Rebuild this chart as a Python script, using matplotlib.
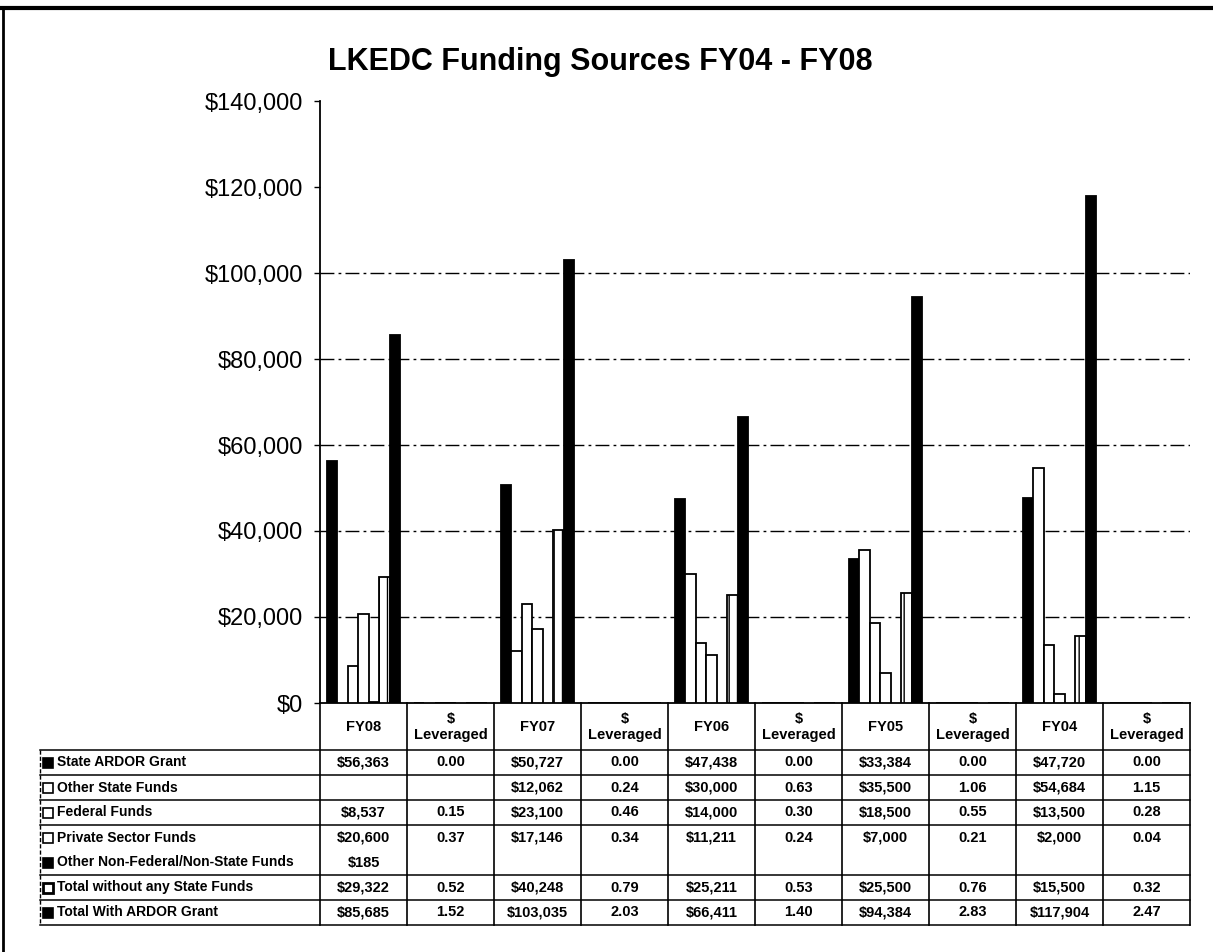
import numpy as np
import matplotlib.pyplot as plt
from matplotlib.patches import Rectangle

plt.rcParams['font.family'] = ['Liberation Sans', 'DejaVu Sans']
plt.rcParams['text.parse_math'] = False

nan = np.nan

categories = ["FY08", "$\nLeveraged", "FY07", "$\nLeveraged", "FY06", "$\nLeveraged",
              "FY05", "$\nLeveraged", "FY04", "$\nLeveraged"]

series_names = ["State ARDOR Grant", "Other State Funds", "Federal Funds",
                "Private Sector Funds", "Other Non-Federal/Non-State Funds",
                "Total without any State Funds", "Total With ARDOR Grant"]

state_ardor = [56363, 0.00, 50727, 0.00, 47438, 0.00, 33384, 0.00, 47720, 0.00]
other_state = [nan, nan, 12062, 0.24, 30000, 0.63, 35500, 1.06, 54684, 1.15]
federal = [8537, 0.15, 23100, 0.46, 14000, 0.30, 18500, 0.55, 13500, 0.28]
private = [20600, 0.37, 17146, 0.34, 11211, 0.24, 7000, 0.21, 2000, 0.04]
other_nonfed = [185, nan, nan, nan, nan, nan, nan, nan, nan, nan]
total_without = [29322, 0.52, 40248, 0.79, 25211, 0.53, 25500, 0.76, 15500, 0.32]
total_with = [85685, 1.52, 103035, 2.03, 66411, 1.40, 94384, 2.83, 117904, 2.47]

series_values = [state_ardor, other_state, federal, private,
                 other_nonfed, total_without, total_with]
fills = ['black', 'white', 'white', 'white', 'black', 'white', 'black']

W, H = 1213, 952
fig = plt.figure(figsize=(W / 100, H / 100), dpi=100)
fig.patch.set_facecolor('white')

# plot area in pixels
left, right, top, bottom = 320, 1190, 101, 703
ax = fig.add_axes([left / W, 1 - bottom / H, (right - left) / W, (bottom - top) / H])

x = np.arange(len(categories))
bw = 0.121
for i, (vals, fc) in enumerate(zip(series_values, fills)):
    vals = np.array(vals, dtype=float)
    ok = ~np.isnan(vals)
    hatch = '||' if i == 5 else None
    ax.bar(x[ok] + (i - 3) * bw, vals[ok], bw, color=fc, edgecolor='black',
           linewidth=1.3, hatch=hatch, zorder=3)

ax.set_xlim(-0.5, len(categories) - 0.5)
ax.set_ylim(0, 140000)
yt = np.arange(0, 140001, 20000)
ax.set_yticks(yt)
ax.set_yticklabels([f"${v:,.0f}" for v in yt])
# dash-dot rules only up to $100,000
for v in yt[1:6]:
    ax.axhline(v, color='black', linewidth=1, linestyle=(0, (10, 3, 2, 3)), zorder=1)
ax.tick_params(axis='y', labelsize=17, length=4, width=1, pad=8)
ax.set_xticks([])
ax.spines['top'].set_visible(False)
ax.spines['right'].set_visible(False)
ax.spines['left'].set_linewidth(1.3)
ax.spines['bottom'].set_linewidth(1.3)

fig.text(600 / W, 1 - 62 / H, "LKEDC Funding Sources FY04 - FY08",
         ha='center', va='center', fontsize=22, fontweight='bold')

# overlay in pixel coordinates for the frame and the data table
ov = fig.add_axes([0, 0, 1, 1])
ov.set_xlim(0, W)
ov.set_ylim(H, 0)
ov.axis('off')

ov.plot([0, W], [8, 8], color='black', lw=3)
ov.plot([3, 3], [8, H], color='black', lw=2)

edges = [ax.transData.transform((e, 0))[0] for e in np.arange(-0.5, len(categories))]
centers = [(a + b) / 2 for a, b in zip(edges[:-1], edges[1:])]

row_top, row_h, tab_left = 750, 25, 40
tab_bottom = row_top + row_h * len(series_names)

for cx, cat in zip(centers, categories):
    ov.text(cx, 727, cat, ha='center', va='center', fontsize=10.5,
            fontweight='bold', multialignment='center', linespacing=1.15)

for r, (name, vals, fc) in enumerate(zip(series_names, series_values, fills)):
    cy = row_top + row_h * (r + 0.5)
    base = cy + 4
    ov.add_patch(Rectangle((43, cy - 5), 10, 10, facecolor=fc, edgecolor='black',
                           lw=2.0 if r == 5 else 1.2))
    ov.text(57, base, name, ha='left', va='baseline', fontsize=10,
            fontweight='bold')
    for c, v in enumerate(vals):
        if np.isnan(v):
            continue
        txt = f"${v:,.0f}" if c % 2 == 0 else f"{v:.2f}"
        ov.text(centers[c], base, txt, ha='center', va='baseline',
                fontsize=10.5, fontweight='bold')

# row rules (none between the private sector and other non-federal rows)
for r in range(len(series_names) + 1):
    if r == 4:
        continue
    y = row_top + row_h * r
    ov.plot([tab_left, edges[-1]], [y, y], color='black', lw=1.1)
ov.plot([tab_left, tab_left], [row_top, tab_bottom], color='black', lw=1,
        linestyle=(0, (3, 1.5)))
for e in edges:
    ov.plot([e, e], [bottom, tab_bottom], color='black', lw=1.2)

fig.savefig('out.png', dpi=100, facecolor='white')
